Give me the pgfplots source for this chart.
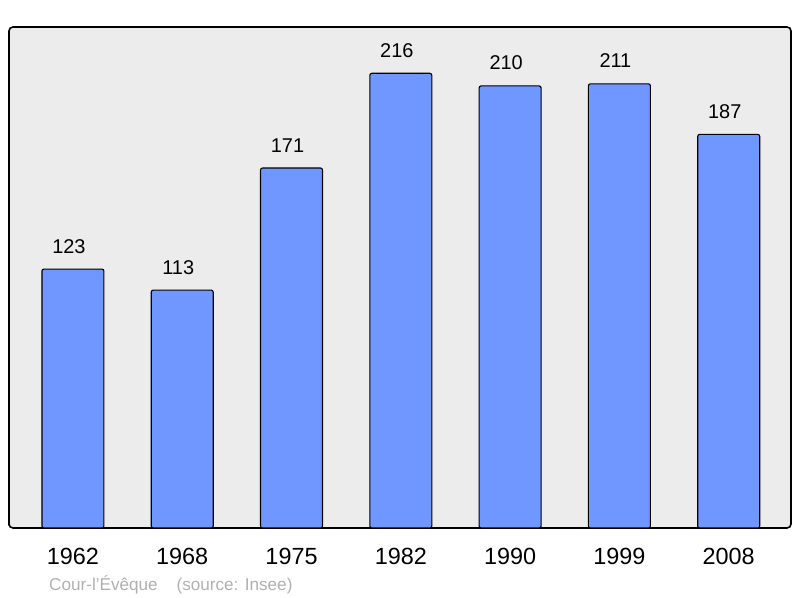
\documentclass[border=0pt]{standalone}
\usepackage{fontspec}
\setmainfont{Liberation Sans}
\usepackage{pgfplots}
\pgfplotsset{compat=1.18}

\definecolor{barblue}{RGB}{112,151,255}
\definecolor{panelgray}{RGB}{236,236,236}
\definecolor{footgray}{RGB}{176,176,176}

\begin{document}
\begin{tikzpicture}[x=1bp,y=1bp]
\useasboundingbox (0,0) rectangle (800,598);
\begin{axis}[
  at={(9bp,70bp)}, anchor=south west,
  width=782bp, height=501bp, scale only axis,
  axis background/.style={fill=panelgray},
  axis line style={line width=1.6bp, rounded corners=4bp},
  xmin=-0.585, xmax=6.57,
  ymin=0, ymax=238,
  xtick=data,
  xticklabels={1962,1968,1975,1982,1990,1999,2008},
  major tick length=0pt,
  ytick=\empty,
  x tick label style={font=\fontsize{23.5}{27}\selectfont, yshift=-17bp},
  /pgf/number format/assume math mode=true,
  ybar, bar width=0.567,
  nodes near coords,
  nodes near coords style={font=\fontsize{20}{24}\selectfont, yshift=12bp, xshift=-4bp},
]
\addplot [fill=barblue, draw=black, line width=1.1bp, rounded corners=2bp]
coordinates {(0,123) (1,113) (2,171) (3,216) (4,210) (5,211) (6,187)};
\end{axis}
\node[anchor=west, text=footgray, font=\fontsize{17.2}{20}\selectfont, inner sep=0]
  at (49,13) {Cour-l'Évêque\hspace{1.1em}(source: Insee)};
\end{tikzpicture}
\end{document}
